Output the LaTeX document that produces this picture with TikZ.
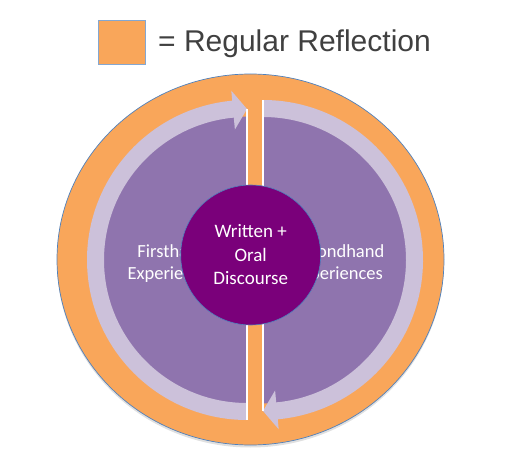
\documentclass[tikz,border=0pt]{standalone}
\usepackage{fontspec}
\setmainfont{Carlito}
\newfontfamily\legendfont{Liberation Sans}
\usepackage{tikz}
\usetikzlibrary{calc}
\definecolor{reflorange}{RGB}{249,166,90}
\definecolor{loopband}{RGB}{204,193,218}
\definecolor{halfpurple}{RGB}{143,116,174}
\definecolor{corepurple}{RGB}{122,0,122}
\definecolor{edgeblue}{RGB}{79,129,189}
\definecolor{legendgray}{RGB}{64,64,64}
\tikzset{
  half/.style={fill=halfpurple},
  band/.style={fill=loopband},
  cut/.style={draw=white, line width=1.4pt},
  sidetext/.style={align=center, text=white, inner sep=0pt,
    font=\fontsize{18.5}{21.5}\selectfont},
  core/.style={circle, draw=edgeblue, line width=0.6pt, fill=corepurple,
    minimum size=140pt, align=center, text=white, inner sep=0pt,
    font=\fontsize{19}{23.5}\selectfont},
  keybox/.style={rectangle, draw=edgeblue!70, line width=0.6pt, fill=reflorange,
    minimum width=47pt, minimum height=44pt, inner sep=0pt},
}

\begin{document}
\begin{tikzpicture}[x=1pt, y=1pt]
  \useasboundingbox (0,0) rectangle (511,469);

  % legend
  \node[keybox] (key) at (122,427) {};
  \node[anchor=base west, inner sep=0pt, text=legendgray,
    font=\legendfont\fontsize{30}{32}\selectfont] (keytext) at (158,417.3) {= Regular Reflection};

  % outer reflection ring
  \fill[black, opacity=0.12] (250.5,207) ellipse [x radius=193.5, y radius=185.5];
  \fill[reflorange, draw=edgeblue, line width=0.7pt] (250.5,209.5) ellipse [x radius=193.5, y radius=185.5];

  \coordinate (cL) at (247,209);
  \coordinate (cR) at (263,209);

  % left half, arrow going up
  \fill[half] ($(cL)+(0,143.5)$) arc[start angle=90, end angle=270, radius=143.5] -- cycle;
  \fill[band] ($(cL)+(270:143)$) arc[start angle=270, end angle=95.3, radius=143]
    -- ($(cL)+(95.3:131)$) -- ($(cL)+(0,151)$) -- ($(cL)+(95.3:170)$)
    -- ($(cL)+(95.3:160)$) arc[start angle=95.3, end angle=270, radius=160] -- cycle;
  \draw[cut] ($(cL)+(0,151)$) -- ($(cL)+(0,-160)$);

  % right half, arrow going down
  \fill[half] ($(cR)+(0,143.5)$) arc[start angle=90, end angle=-90, radius=143.5] -- cycle;
  \fill[band] ($(cR)+(90:143)$) arc[start angle=90, end angle=-84.7, radius=143]
    -- ($(cR)+(-84.7:131)$) -- ($(cR)+(0,-151)$) -- ($(cR)+(-84.7:170)$)
    -- ($(cR)+(-84.7:160)$) arc[start angle=-84.7, end angle=90, radius=160] -- cycle;
  \draw[cut] ($(cR)+(0,160)$) -- ($(cR)+(0,-151)$);

  % labels
  \node[sidetext] (first) at (172.5,205.5) {Firsthand\\Experiences};
  \node[sidetext] (second) at (338,205.5) {Secondhand\\Experiences};

  % centre
  \node[core] (discourse) at (250.7,214) {Written +\\Oral\\Discourse};
\end{tikzpicture}
\end{document}
